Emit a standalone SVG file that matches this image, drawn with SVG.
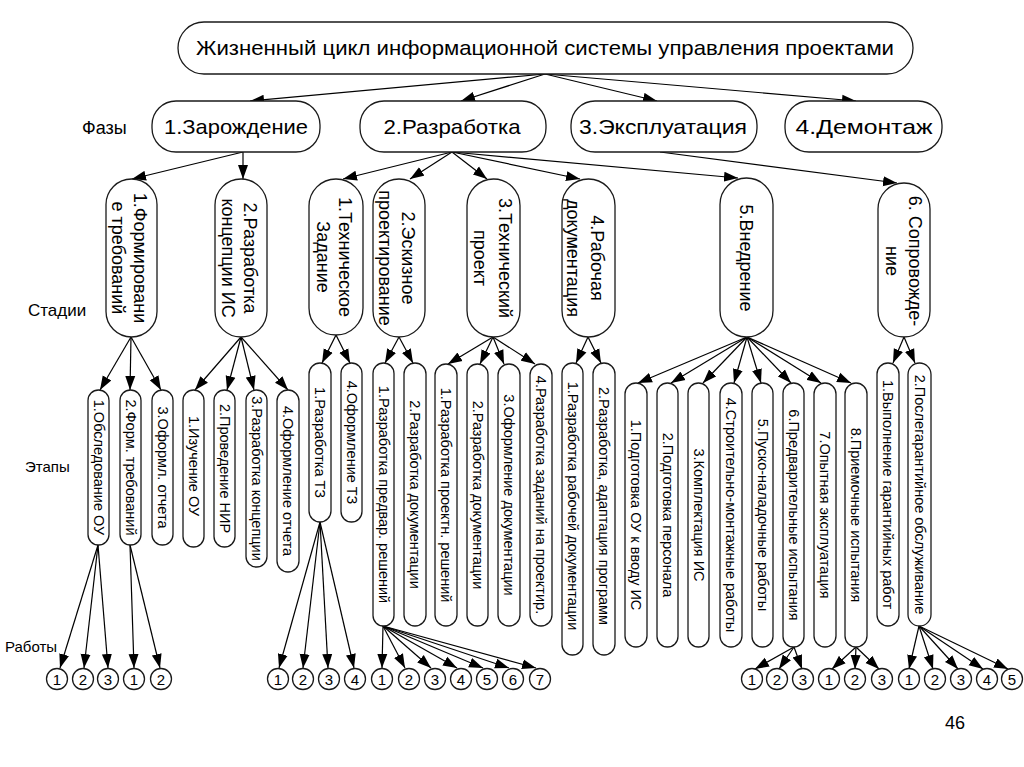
<svg xmlns="http://www.w3.org/2000/svg" width="1024" height="767" viewBox="0 0 1024 767">
<defs>
<style>
.box{fill:#fff;stroke:#1a1a1a;stroke-width:1.3}
.c{stroke:#000;stroke-width:1.2;fill:none;marker-end:url(#ah)}
text{font-family:"Liberation Sans",Arial,sans-serif;fill:#000}
.ph{font-size:21px;text-anchor:middle}
.st{font-size:18px;text-anchor:middle}
.et{font-size:14.5px;text-anchor:middle}
.ci{font-size:15px;text-anchor:middle}
.lb{font-size:15px}
</style>
<marker id="ah" markerUnits="userSpaceOnUse" markerWidth="15" markerHeight="11" refX="14" refY="5.5" orient="auto"><path d="M0,0.5 L14,5.5 L0,10.5 z" fill="#000"/></marker>
</defs>
<rect width="1024" height="767" fill="#fff"/>

<g id="labels">
<text class="lb" x="82" y="134" style="font-size:18px">Фазы</text>
<text class="lb" x="28" y="316" style="font-size:17px">Стадии</text>
<text class="lb" x="25" y="472">Этапы</text>
<text class="lb" x="5" y="652">Работы</text>
<text x="945" y="729" style="font-size:18px">46</text>
</g>

<g id="connectors">
<line class="c" x1="545" y1="74" x2="250" y2="101"/>
<line class="c" x1="545" y1="74" x2="461" y2="101"/>
<line class="c" x1="545" y1="74" x2="657" y2="101"/>
<line class="c" x1="545" y1="74" x2="856" y2="101"/>
<line class="c" x1="243" y1="152" x2="132" y2="179"/>
<line class="c" x1="243" y1="152" x2="243" y2="179"/>
<line class="c" x1="452" y1="152" x2="343" y2="179"/>
<line class="c" x1="452" y1="152" x2="410" y2="179"/>
<line class="c" x1="452" y1="152" x2="487" y2="179"/>
<line class="c" x1="452" y1="152" x2="580" y2="179"/>
<line class="c" x1="452" y1="152" x2="738" y2="178"/>
<line class="c" x1="660" y1="152" x2="897" y2="183"/>
<line class="c" x1="131" y1="337" x2="100" y2="390"/>
<line class="c" x1="131" y1="337" x2="130" y2="390"/>
<line class="c" x1="131" y1="337" x2="161" y2="390"/>
<line class="c" x1="241" y1="337" x2="195" y2="390"/>
<line class="c" x1="241" y1="337" x2="227" y2="390"/>
<line class="c" x1="241" y1="337" x2="254" y2="390"/>
<line class="c" x1="241" y1="337" x2="288" y2="390"/>
<line class="c" x1="336" y1="335" x2="322" y2="363"/>
<line class="c" x1="336" y1="335" x2="350" y2="363"/>
<line class="c" x1="399" y1="337" x2="385" y2="363"/>
<line class="c" x1="399" y1="337" x2="413" y2="363"/>
<line class="c" x1="493" y1="337" x2="448" y2="364"/>
<line class="c" x1="493" y1="337" x2="480" y2="364"/>
<line class="c" x1="493" y1="337" x2="504" y2="364"/>
<line class="c" x1="493" y1="337" x2="535" y2="364"/>
<line class="c" x1="588" y1="337" x2="576" y2="363"/>
<line class="c" x1="588" y1="337" x2="601" y2="363"/>
<line class="c" x1="747" y1="337" x2="638" y2="383"/>
<line class="c" x1="747" y1="337" x2="671" y2="383"/>
<line class="c" x1="747" y1="337" x2="703" y2="383"/>
<line class="c" x1="747" y1="337" x2="734" y2="383"/>
<line class="c" x1="747" y1="337" x2="761" y2="383"/>
<line class="c" x1="747" y1="337" x2="791" y2="383"/>
<line class="c" x1="747" y1="337" x2="821" y2="383"/>
<line class="c" x1="747" y1="337" x2="851" y2="383"/>
<line class="c" x1="904" y1="337" x2="893" y2="363"/>
<line class="c" x1="904" y1="337" x2="915" y2="363"/>
<line class="c" x1="98" y1="545" x2="60" y2="668"/>
<line class="c" x1="98" y1="545" x2="84" y2="668"/>
<line class="c" x1="98" y1="545" x2="108" y2="668"/>
<line class="c" x1="130" y1="545" x2="134" y2="668"/>
<line class="c" x1="130" y1="545" x2="160" y2="668"/>
<line class="c" x1="320" y1="522" x2="279" y2="668"/>
<line class="c" x1="320" y1="522" x2="303" y2="668"/>
<line class="c" x1="320" y1="522" x2="328" y2="668"/>
<line class="c" x1="320" y1="522" x2="354" y2="668"/>
<line class="c" x1="383" y1="626" x2="382" y2="668"/>
<line class="c" x1="383" y1="626" x2="405" y2="668"/>
<line class="c" x1="383" y1="626" x2="431" y2="668"/>
<line class="c" x1="383" y1="626" x2="457" y2="668"/>
<line class="c" x1="383" y1="626" x2="483" y2="668"/>
<line class="c" x1="383" y1="626" x2="509" y2="668"/>
<line class="c" x1="383" y1="626" x2="536" y2="668"/>
<line class="c" x1="794" y1="647" x2="755" y2="669"/>
<line class="c" x1="794" y1="647" x2="779" y2="669"/>
<line class="c" x1="794" y1="647" x2="802" y2="669"/>
<line class="c" x1="856" y1="647" x2="832" y2="669"/>
<line class="c" x1="856" y1="647" x2="855" y2="669"/>
<line class="c" x1="856" y1="647" x2="879" y2="669"/>
<line class="c" x1="919" y1="626" x2="909" y2="669"/>
<line class="c" x1="919" y1="626" x2="933" y2="669"/>
<line class="c" x1="919" y1="626" x2="958" y2="669"/>
<line class="c" x1="919" y1="626" x2="983" y2="669"/>
<line class="c" x1="919" y1="626" x2="1008" y2="669"/>
</g>

<g id="title"><rect class="box" x="178" y="22" width="735" height="52" rx="26"/><text class="ph" x="545" y="55" textLength="698" lengthAdjust="spacingAndGlyphs">Жизненный цикл информационной системы управления проектами</text></g>

<g id="phase1"><rect class="box" x="152" y="101" width="168" height="51" rx="24"/><text class="ph" x="236" y="134" textLength="144" lengthAdjust="spacingAndGlyphs">1.Зарождение</text></g>
<g id="phase2"><rect class="box" x="360" y="101" width="186" height="51" rx="24"/><text class="ph" x="452" y="134" textLength="137" lengthAdjust="spacingAndGlyphs">2.Разработка</text></g>
<g id="phase3"><rect class="box" x="571" y="101" width="186" height="51" rx="24"/><text class="ph" x="663" y="134" textLength="168" lengthAdjust="spacingAndGlyphs">3.Эксплуатация</text></g>
<g id="phase4"><rect class="box" x="785" y="101" width="157" height="51" rx="24"/><text class="ph" x="864" y="134" textLength="137" lengthAdjust="spacingAndGlyphs">4.Демонтаж</text></g>

<g id="stage1"><rect class="box" x="106" y="179" width="51" height="158" rx="25.5"/><text class="st" transform="translate(131.5,258) rotate(90)"><tspan x="0" y="-2.5">1.Формировани</tspan><tspan x="0" y="19.5">е требований</tspan></text></g>
<g id="stage2"><rect class="box" x="215" y="179" width="52" height="158" rx="26"/><text class="st" transform="translate(241,258) rotate(90)"><tspan x="0" y="-3">2.Разработка</tspan><tspan x="0" y="19">концепции ИС</tspan></text></g>
<g id="stage3"><rect class="box" x="309" y="179" width="54" height="156" rx="27"/><text class="st" transform="translate(336,257) rotate(90)"><tspan x="0" y="-3">1.Техническое</tspan><tspan x="0" y="19">Задание</tspan></text></g>
<g id="stage4"><rect class="box" x="373" y="179" width="52" height="158" rx="26"/><text class="st" transform="translate(399,258) rotate(90)"><tspan x="0" y="-3">2.Эскизное</tspan><tspan x="0" y="20">проектирование</tspan></text></g>
<g id="stage5"><rect class="box" x="467" y="179" width="53" height="158" rx="26.5"/><text class="st" transform="translate(493.5,258) rotate(90)"><tspan x="0" y="-5.5">3.Технический</tspan><tspan x="0" y="19.5">проект</tspan></text></g>
<g id="stage6"><rect class="box" x="562" y="179" width="53" height="158" rx="26.5"/><text class="st" transform="translate(588.5,258) rotate(90)"><tspan x="0" y="-2.5">4.Рабочая</tspan><tspan x="0" y="21.5">документация</tspan></text></g>
<g id="stage7"><rect class="box" x="720" y="178" width="53" height="159" rx="26.5"/><text class="st" transform="translate(746.5,258) rotate(90)"><tspan x="0" y="6.5">5.Внедрение</tspan></text></g>
<g id="stage8"><rect class="box" x="878" y="183" width="52" height="154" rx="26"/><text class="st" transform="translate(904,261) rotate(90)"><tspan x="0" y="-5">6. Сопровожде-</tspan><tspan x="0" y="18">ние</tspan></text></g>

<g id="e-a1"><rect class="box" x="88" y="390" width="21" height="155" rx="10.5"/><text class="et" transform="translate(98.5,467.5) rotate(90)" y="5">1.Обследование ОУ</text></g>
<g id="e-a2"><rect class="box" x="120" y="390" width="21" height="155" rx="10.5"/><text class="et" transform="translate(130.5,467.5) rotate(90)" y="5">2.Форм. требований</text></g>
<g id="e-a3"><rect class="box" x="152" y="390" width="21" height="155" rx="10.5"/><text class="et" transform="translate(162.5,467.5) rotate(90)" y="5">3.Оформл. отчета</text></g>
<g id="e-b1"><rect class="box" x="183" y="390" width="21" height="157" rx="10.5"/><text class="et" transform="translate(193.5,466) rotate(90)" y="5">1.Изучение ОУ</text></g>
<g id="e-b2"><rect class="box" x="214" y="390" width="21" height="157" rx="10.5"/><text class="et" transform="translate(224.5,468.5) rotate(90)" y="5">2.Проведение НИР</text></g>
<g id="e-b3"><rect class="box" x="246" y="390" width="21" height="177" rx="10.5"/><text class="et" transform="translate(256.5,478.5) rotate(90)" y="5">3.Разработка концепции</text></g>
<g id="e-b4"><rect class="box" x="277" y="390" width="22" height="182" rx="11"/><text class="et" transform="translate(288,481) rotate(90)" y="5">4.Оформление отчета</text></g>
<g id="e-c1"><rect class="box" x="309" y="363" width="22" height="159" rx="11"/><text class="et" transform="translate(320,442.5) rotate(90)" y="5">1.Разработка ТЗ</text></g>
<g id="e-c2"><rect class="box" x="341" y="363" width="21" height="159" rx="10.5"/><text class="et" transform="translate(351.5,442.5) rotate(90)" y="5">4.Оформление ТЗ</text></g>
<g id="e-d1"><rect class="box" x="373" y="363" width="21" height="263" rx="10.5"/><text class="et" transform="translate(383.5,494.5) rotate(90)" y="5">1.Разработка предвар. решений</text></g>
<g id="e-d2"><rect class="box" x="404" y="363" width="22" height="263" rx="11"/><text class="et" transform="translate(415,494.5) rotate(90)" y="5">2.Разработка документации</text></g>
<g id="e-e1"><rect class="box" x="435" y="364" width="22" height="262" rx="11"/><text class="et" transform="translate(446,495) rotate(90)" y="5">1.Разработка проектн. решений</text></g>
<g id="e-e2"><rect class="box" x="467" y="364" width="21" height="262" rx="10.5"/><text class="et" transform="translate(477.5,495) rotate(90)" y="5">2.Разработка документации</text></g>
<g id="e-e3"><rect class="box" x="498" y="364" width="22" height="262" rx="11"/><text class="et" transform="translate(509,495) rotate(90)" y="5">3.Оформление документации</text></g>
<g id="e-e4"><rect class="box" x="530" y="364" width="22" height="262" rx="11"/><text class="et" transform="translate(541,495) rotate(90)" y="5">4.Разработка заданий на проектир.</text></g>
<g id="e-f1"><rect class="box" x="562" y="363" width="21" height="292" rx="10.5"/><text class="et" transform="translate(572.5,506) rotate(90)" y="5">1.Разработка рабочей документации</text></g>
<g id="e-f2"><rect class="box" x="593" y="363" width="22" height="292" rx="11"/><text class="et" transform="translate(604,506) rotate(90)" y="5">2.Разработка, адаптация программ</text></g>
<g id="e-g1"><rect class="box" x="625" y="383" width="22" height="264" rx="11"/><text class="et" transform="translate(636,515) rotate(90)" y="5">1.Подготовка ОУ к вводу ИС</text></g>
<g id="e-g2"><rect class="box" x="657" y="383" width="21" height="264" rx="10.5"/><text class="et" transform="translate(667.5,515) rotate(90)" y="5">2.Подготовка персонала</text></g>
<g id="e-g3"><rect class="box" x="688" y="383" width="21" height="264" rx="10.5"/><text class="et" transform="translate(698.5,515) rotate(90)" y="5">3.Комплектация ИС</text></g>
<g id="e-g4"><rect class="box" x="720" y="383" width="22" height="264" rx="11"/><text class="et" transform="translate(731,515) rotate(90)" y="5">4.Строительно-монтажные работы</text></g>
<g id="e-g5"><rect class="box" x="752" y="383" width="21" height="264" rx="10.5"/><text class="et" transform="translate(762.5,515) rotate(90)" y="5">5.Пуско-наладочные работы</text></g>
<g id="e-g6"><rect class="box" x="783" y="383" width="21" height="264" rx="10.5"/><text class="et" transform="translate(793.5,515) rotate(90)" y="5">6.Предварительные испытания</text></g>
<g id="e-g7"><rect class="box" x="814" y="383" width="22" height="264" rx="11"/><text class="et" transform="translate(825,515) rotate(90)" y="5">7.Опытная эксплуатация</text></g>
<g id="e-g8"><rect class="box" x="845" y="383" width="22" height="264" rx="11"/><text class="et" transform="translate(856,515) rotate(90)" y="5">8.Приемочные испытания</text></g>
<g id="e-h1"><rect class="box" x="877" y="363" width="22" height="263" rx="11"/><text class="et" transform="translate(888,494.5) rotate(90)" y="5">1.Выполнение гарантийных работ</text></g>
<g id="e-h2"><rect class="box" x="908" y="363" width="23" height="263" rx="11.5"/><text class="et" transform="translate(919.5,494.5) rotate(90)" y="5">2.Послегарантийное обслуживание</text></g>

<g id="works">
<circle class="box" cx="57" cy="679" r="10.5"/><text class="ci" x="57" y="684.5">1</text>
<circle class="box" cx="83" cy="679" r="10.5"/><text class="ci" x="83" y="684.5">2</text>
<circle class="box" cx="108" cy="679" r="10.5"/><text class="ci" x="108" y="684.5">3</text>
<circle class="box" cx="134" cy="679" r="10.5"/><text class="ci" x="134" y="684.5">1</text>
<circle class="box" cx="161" cy="679" r="10.5"/><text class="ci" x="161" y="684.5">2</text>
<circle class="box" cx="278" cy="679" r="10.5"/><text class="ci" x="278" y="684.5">1</text>
<circle class="box" cx="303" cy="679" r="10.5"/><text class="ci" x="303" y="684.5">2</text>
<circle class="box" cx="329" cy="679" r="10.5"/><text class="ci" x="329" y="684.5">3</text>
<circle class="box" cx="355" cy="679" r="10.5"/><text class="ci" x="355" y="684.5">4</text>
<circle class="box" cx="382" cy="679" r="10.5"/><text class="ci" x="382" y="684.5">1</text>
<circle class="box" cx="409" cy="679" r="10.5"/><text class="ci" x="409" y="684.5">2</text>
<circle class="box" cx="435" cy="679" r="10.5"/><text class="ci" x="435" y="684.5">3</text>
<circle class="box" cx="461" cy="679" r="10.5"/><text class="ci" x="461" y="684.5">4</text>
<circle class="box" cx="487" cy="679" r="10.5"/><text class="ci" x="487" y="684.5">5</text>
<circle class="box" cx="513" cy="679" r="10.5"/><text class="ci" x="513" y="684.5">6</text>
<circle class="box" cx="540" cy="679" r="10.5"/><text class="ci" x="540" y="684.5">7</text>
<circle class="box" cx="752" cy="679" r="10.5"/><text class="ci" x="752" y="684.5">1</text>
<circle class="box" cx="777" cy="679" r="10.5"/><text class="ci" x="777" y="684.5">2</text>
<circle class="box" cx="803" cy="679" r="10.5"/><text class="ci" x="803" y="684.5">3</text>
<circle class="box" cx="829" cy="679" r="10.5"/><text class="ci" x="829" y="684.5">1</text>
<circle class="box" cx="855" cy="679" r="10.5"/><text class="ci" x="855" y="684.5">2</text>
<circle class="box" cx="882" cy="679" r="10.5"/><text class="ci" x="882" y="684.5">3</text>
<circle class="box" cx="909" cy="679" r="10.5"/><text class="ci" x="909" y="684.5">1</text>
<circle class="box" cx="935" cy="679" r="10.5"/><text class="ci" x="935" y="684.5">2</text>
<circle class="box" cx="961" cy="679" r="10.5"/><text class="ci" x="961" y="684.5">3</text>
<circle class="box" cx="987" cy="679" r="10.5"/><text class="ci" x="987" y="684.5">4</text>
<circle class="box" cx="1012" cy="679" r="10.5"/><text class="ci" x="1012" y="684.5">5</text>
</g>
</svg>
